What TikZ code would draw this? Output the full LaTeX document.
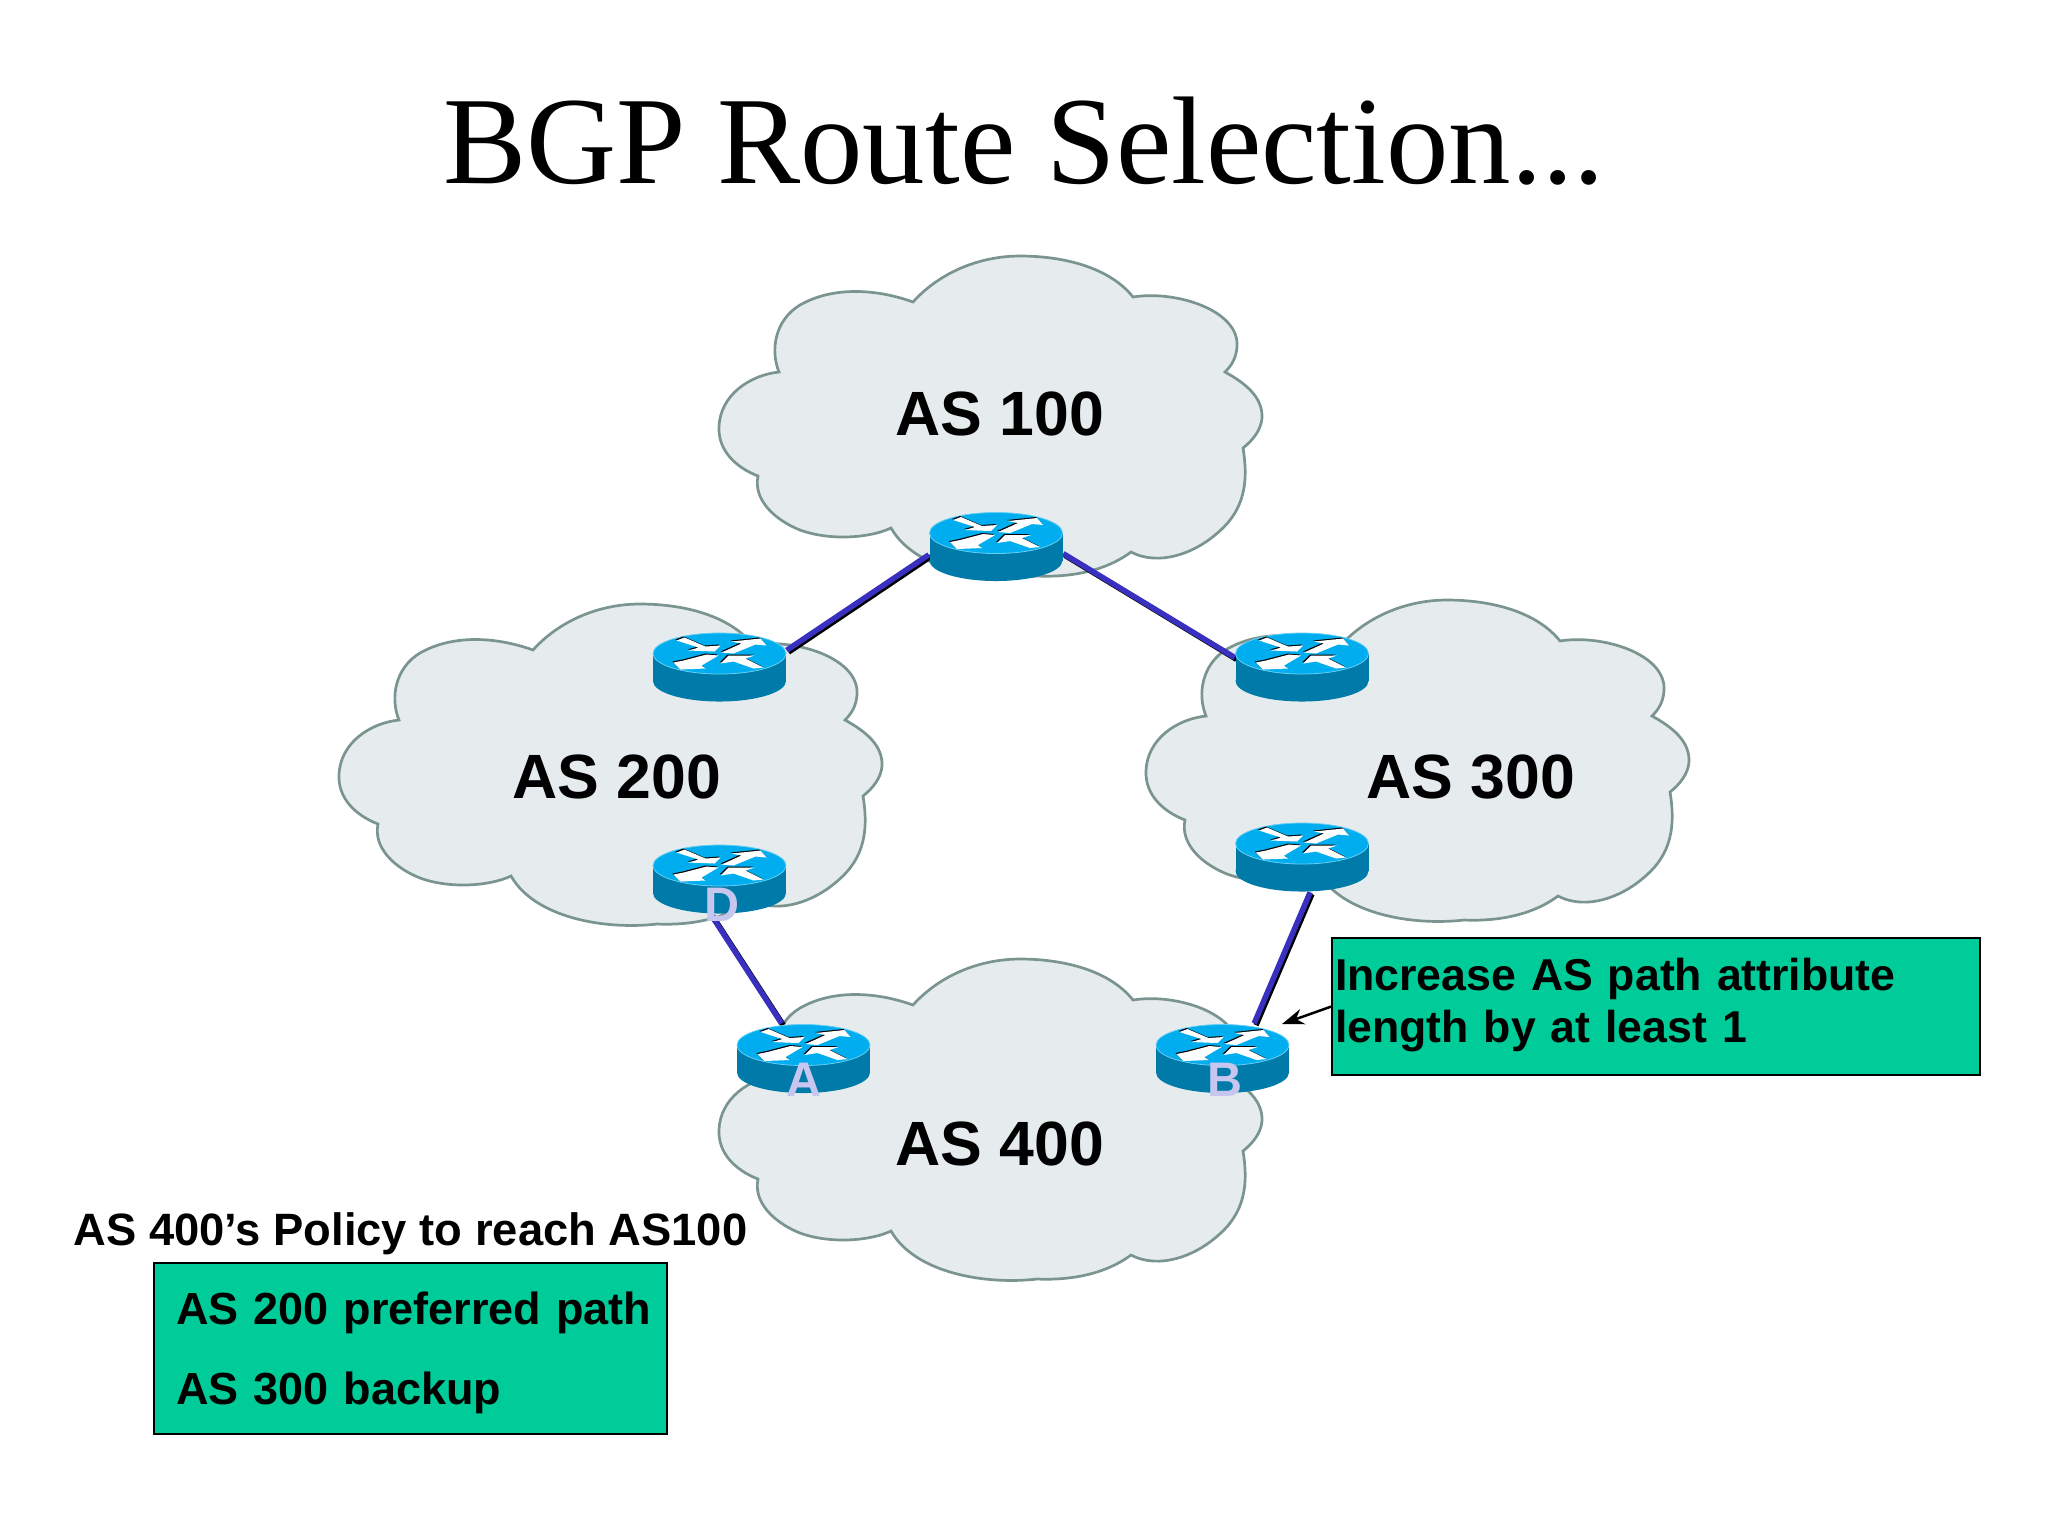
\documentclass[tikz,border=0pt]{standalone}
\usepackage{fontspec}
\setmainfont{Liberation Serif}
\setsansfont{Liberation Sans}
\usetikzlibrary{arrows.meta}

\definecolor{cloudfill}{HTML}{E6ECEE}
\definecolor{cloudline}{HTML}{7A9490}
\definecolor{routertop}{HTML}{00AEEF}
\definecolor{routerside}{HTML}{007AA8}
\definecolor{linkblue}{HTML}{3A30C0}
\definecolor{notegreen}{HTML}{00CC99}
\definecolor{letterblue}{HTML}{C6C6EE}

\tikzset{
    routerbox/.style={minimum width=13.3mm, minimum height=6.9mm, inner sep=0pt},
    aslabel/.style={anchor=base, inner sep=0pt, font=\sffamily\bfseries\fontsize{17.8}{20}\selectfont},
    letter/.style={inner sep=0pt, text=letterblue, font=\sffamily\bfseries\fontsize{13.8}{15}\selectfont},
    notebox/.style={draw=black, line width=0.22mm, fill=notegreen, align=left, anchor=north west, inner ysep=0pt},
    linkshadow/.style={black, line width=0.55mm, transform canvas={xshift=0.18mm, yshift=-0.18mm}},
    linkline/.style={linkblue, line width=0.55mm}
}

\begin{document}
\begin{tikzpicture}[x=0.1mm, y=-0.1mm]

    \useasboundingbox (0,0) rectangle (2048,1536);

    % Nuvola, disegnata attorno alla posizione di AS 100
    \def\cloud#1#2{%
        \draw[fill=cloudfill, draw=cloudline, line width=0.27mm, shift={(#1,#2)}]
            (913,302) .. controls (940,272) and (980,256) .. (1020,256)
            .. controls (1065,256) and (1110,268) .. (1133,297)
            .. controls (1175,290) and (1240,310) .. (1237,347)
            .. controls (1236,358) and (1232,365) .. (1225,372)
            .. controls (1245,383) and (1263,397) .. (1262,418)
            .. controls (1261,430) and (1253,440) .. (1243,448)
            .. controls (1250,490) and (1240,515) .. (1215,535)
            .. controls (1195,552) and (1160,567) .. (1131,552)
            .. controls (1100,575) and (1060,577) .. (1037,576)
            .. controls (985,582) and (915,570) .. (891,528)
            .. controls (870,538) and (830,541) .. (800,530)
            .. controls (775,520) and (753,500) .. (758,476)
            .. controls (735,467) and (718,450) .. (719,427)
            .. controls (720,395) and (750,375) .. (779,372)
            .. controls (770,350) and (775,320) .. (800,305)
            .. controls (835,285) and (880,290) .. (913,302) -- cycle;%
    }

    % Le quattro frecce sul tetto del router
    \def\routerarrows#1{%
        \fill[#1] (-43,-26.5) -- (-35,-29.5) -- (-14,-20.5) -- (1,-21.5) -- (-5,-15.5) -- (-31,-16.5) -- (-21,-19.5) -- cycle;%
        \fill[#1] (2,-14.5) -- (22,-23.5) -- (12,-25.5) -- (41,-28.5) -- (47,-21.5) -- (36,-22.5) -- (14,-13.5) -- cycle;%
        \fill[#1] (1,-3.5) -- (9,-11.5) -- (35,-11.5) -- (26,-8.5) -- (44,0.5) -- (34,1.5) -- (14,-5.5) -- cycle;%
        \fill[#1] (-46,-4.5) -- (-36,-6.5) -- (-13,-12.5) -- (-1,-11.5) -- (-18,-1.5) -- (-14,1.5) -- (-39,2.5) -- cycle;%
    }

    % Router: cilindro centrato sul suo nodo
    \def\router#1{%
        \begin{scope}[shift={(#1)}]
            \fill[routerside] (0,14) ellipse [x radius=66.5, y radius=20.5];
            \fill[routerside] (-66.5,-13.5) rectangle (66.5,14);
            \draw[fill=routertop, draw=routertop!60!white, line width=0.08mm] (0,-13.5) ellipse [x radius=66.5, y radius=20.5];
            \begin{scope}[shift={(-1,-1)}]
                \routerarrows{black}
            \end{scope}
            \routerarrows{white}
        \end{scope}%
    }

    % Collegamento con la sua ombra nera
    \def\link#1#2{%
        \draw[linkshadow] (#1) -- (#2);%
        \draw[linkline] (#1) -- (#2);%
    }

    % -- Titolo --
    \node[anchor=base, inner sep=0pt, font=\fontsize{35.5}{40}\selectfont] (title) at (1024,183) {BGP Route Selection...};

    % -- Nuvole --
    \cloud{0}{0}
    \cloud{-380}{348}
    \cloud{427}{344}
    \cloud{0}{703}

    \node[aslabel] (as100) at (1000,435) {AS 100};
    \node[aslabel] (as200) at (617,798) {AS 200};
    \node[aslabel] (as300) at (1471,798) {AS 300};
    \node[aslabel] (as400) at (1000,1165) {AS 400};

    % -- Router e collegamenti --
    \node[routerbox] (r100) at (996,546.5) {};
    \node[routerbox] (r200) at (719.5,667) {};
    \node[routerbox] (r300) at (1302,667) {};
    \node[routerbox] (rD) at (719.5,879) {};
    \node[routerbox] (rC) at (1302,857) {};
    \node[routerbox] (rA) at (803.5,1058.5) {};
    \node[routerbox] (rB) at (1222.5,1058.5) {};

    \link{r100.187}{r200.14}
    \link{r100.354}{r300.172}
    \link{rD.256}{rA.122}
    \link{rC.283}{rB.48}

    \router{r100}
    \router{r200}
    \router{r300}
    \router{rD}
    \router{rC}
    \router{rA}
    \router{rB}

    \node[letter] (lD) at (722,905) {D};
    \node[letter] (lA) at (804,1080) {A};
    \node[letter] (lB) at (1225,1080) {B};

    % -- Riquadri di testo --
    \node[notebox, minimum width=64.8mm, minimum height=13.7mm, text width=64.2mm, inner xsep=0.3mm,
          font=\sffamily\bfseries\fontsize{12.7}{14.8}\selectfont] (increase) at (1331,937)
        {Increase AS path attribute\\length by at least 1\rule[-1.3mm]{0pt}{1mm}};

    \coordinate (notetip) at (1282,1024);
    \draw[-{Stealth[length=2.2mm, width=1.6mm]}, line width=0.25mm] (increase.west) -- (notetip);

    \node[anchor=base west, inner sep=0pt, font=\sffamily\bfseries\fontsize{12.9}{14}\selectfont] (policy) at (73,1245)
        {AS 400’s Policy to reach AS100};

    \node[notebox, minimum width=51.3mm, minimum height=17.1mm, text width=48.9mm, inner xsep=1.2mm,
          font=\sffamily\bfseries\fontsize{12.8}{22.8}\selectfont] (paths) at (153,1262)
        {\rule{0pt}{4.1mm}\hspace*{1mm}AS 200 preferred path\\\hspace*{1mm}AS 300 backup};

\end{tikzpicture}
\end{document}
